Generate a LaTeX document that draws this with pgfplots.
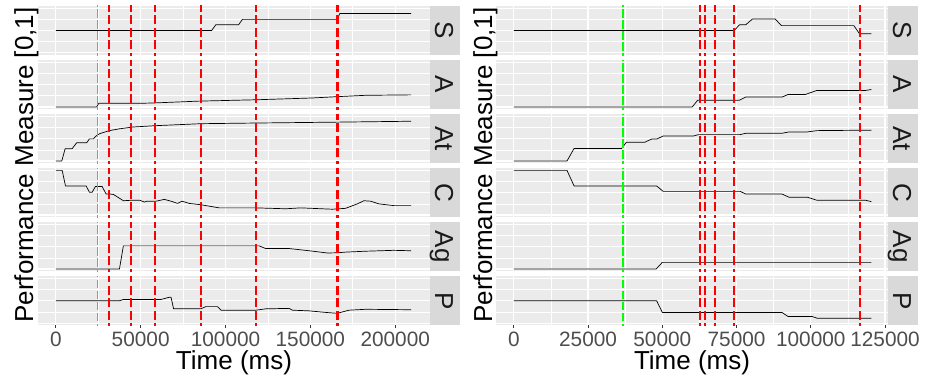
\documentclass[border=0pt]{standalone}
\usepackage{pgfplots}
\pgfplotsset{compat=1.18}
\usepackage{fontspec}
\setmainfont{Liberation Sans}
\definecolor{panelbg}{HTML}{EBEBEB}
\definecolor{stripbg}{HTML}{D9D9D9}
\definecolor{ticklab}{HTML}{4D4D4D}
\definecolor{tickcol}{HTML}{333333}
\definecolor{striptext}{HTML}{1A1A1A}
\definecolor{evred}{RGB}{255,0,0}
\definecolor{evgreen}{RGB}{0,255,0}
\pgfplotsset{
  facet/.style={
    scale only axis, width=392pt, height=49.1pt, anchor=south west,
    ymin=-0.05, ymax=1.05,
    axis line style={draw=none},
    axis background/.style={fill=panelbg},
    ytick={0,0.5,1}, minor ytick={0.25,0.75}, yticklabels={},
    ytick style={draw=none},
    grid=both,
    major grid style={white, line width=1.2pt},
    minor grid style={white, line width=0.6pt},
    scaled x ticks=false,
    major tick length=0pt, minor tick length=0pt,
    xtick pos=left, tick align=outside,
  },
  inner/.style={xticklabels={}, xtick style={draw=none}},
  bottom/.style={
    major x tick style={tickcol, line width=1pt},
    minor x tick style={draw=none},
    major tick length=2.75pt,
    /pgf/number format/assume math mode=true,
    /pgf/number format/fixed,
    /pgf/number format/1000 sep={},
    xticklabel style={font=\fontsize{20.8}{24}\selectfont, text=ticklab},
  },
  leftx/.style={xmin=-10500, xmax=220500, xtick={0,50000,100000,150000,200000},
    minor xtick={25000,75000,125000,175000}},
  rightx/.style={xmin=-6000, xmax=126000, xtick={0,25000,50000,75000,100000,125000},
    minor xtick={12500,37500,62500,87500,112500}},
  evr/.style={draw=evred, line width=2pt, dash pattern=on 9pt off 3.5pt, unbounded coords=jump},
  evg/.style={draw=evgreen, line width=1.8pt, dash pattern=on 8.5pt off 2.5pt},
}
\newcommand{\evL}{%
\addplot[evr] coordinates {
(31600,-0.2) (31600,1.2) (nan,nan)
(44500,-0.2) (44500,1.2) (nan,nan)
(58500,-0.2) (58500,1.2) (nan,nan)
(85500,-0.2) (85500,1.2) (nan,nan)
(117900,-0.2) (117900,1.2) (nan,nan)
(165500,-0.2) (165500,1.2) (nan,nan)
(166300,-0.2) (166300,1.2)};
\addplot[evg] coordinates {(24530,-0.2) (24530,1.2)};}
\newcommand{\evR}{%
\addplot[evr] coordinates {
(62740,-0.2) (62740,1.2) (nan,nan)
(64430,-0.2) (64430,1.2) (nan,nan)
(67800,-0.2) (67800,1.2) (nan,nan)
(74220,-0.2) (74220,1.2) (nan,nan)
(116450,-0.2) (116450,1.2)};
\addplot[evg] coordinates {(36830,-0.2) (36830,1.2)};}
\newcommand{\facet}[5]{%
\begin{axis}[facet, at={(#1pt,#2pt)}, #3]
\addplot[draw=black, line width=0.7pt, line join=round] coordinates {#4};
#5
\end{axis}}
\newcommand{\strip}[3]{%
\fill[stripbg] (#1,#2) rectangle (#1+29.5,#2+49.1);
\node[rotate=-90, anchor=base, font=\fontsize{26}{30}\selectfont, text=striptext, inner sep=0pt] at (#1+5,#2+24.55) {#3};}
\begin{document}
\begin{tikzpicture}[x=1pt,y=1pt]
\useasboundingbox (0,0) rectangle (927,381);
% ---------------- left panel ----------------
\facet{38}{325.9}{leftx,inner}{(0,0.5) (91800,0.5) (94300,0.63) (107700,0.63) (110000,0.75) (165900,0.75) (167300,0.88) (209400,0.88)}{\evL}
\facet{38}{271.85}{leftx,inner}{(0,0) (24100,0) (25300,0.08) (49200,0.08) (58500,0.09) (84500,0.13) (117900,0.16) (151000,0.20) (165900,0.23) (182500,0.26) (209400,0.27)}{\evL}
\facet{38}{217.8}{leftx,inner}{(0,0) (3530,0) (5490,0.275) (9610,0.275) (12350,0.41) (18240,0.41) (19810,0.495) (22160,0.495) (23730,0.56) (25690,0.61) (31570,0.68) (37450,0.72) (45300,0.76) (58400,0.79) (85500,0.835) (117900,0.85) (165900,0.87) (209400,0.89)}{\evL}
\facet{38}{163.75}{leftx,inner}{(0,1.0) (3760,1.0) (5700,0.65) (17880,0.65) (19820,0.51) (21400,0.51) (23350,0.64) (27290,0.64) (29640,0.47) (32000,0.47) (34000,0.46) (39820,0.32) (44350,0.33) (49640,0.33) (52170,0.29) (53530,0.31) (59060,0.31) (63940,0.35) (67870,0.31) (71760,0.26) (74350,0.31) (78650,0.26) (85530,0.23) (96290,0.16) (117860,0.16) (135500,0.14) (144330,0.16) (162960,0.13) (170800,0.15) (177670,0.25) (181590,0.32) (185510,0.31) (190410,0.25) (199240,0.21) (209430,0.21)}{\evL}
\facet{38}{109.7}{leftx,inner}{(0,0) (37500,0) (39800,0.52) (119800,0.52) (123700,0.46) (137500,0.46) (149300,0.41) (160100,0.36) (165900,0.365) (170800,0.38) (182600,0.40) (199200,0.42) (209400,0.41)}{\evL}
\facet{38}{55.65}{leftx,bottom}{(0,0.5) (37500,0.5) (39800,0.53) (62000,0.53) (66900,0.58) (67900,0.58) (69400,0.32) (85500,0.32) (88400,0.37) (95300,0.37) (97300,0.29) (117900,0.29) (123700,0.32) (137500,0.33) (139400,0.29) (149200,0.275) (159000,0.24) (165900,0.22) (172800,0.29) (182600,0.31) (209400,0.30)}{\evL}
% ---------------- right panel ----------------
\facet{496}{325.9}{rightx,inner}{(0,0.5) (74200,0.5) (76000,0.63) (78100,0.63) (80400,0.76) (88000,0.76) (90100,0.61) (114500,0.61) (116400,0.43) (120400,0.43)}{\evR}
\facet{496}{271.85}{rightx,inner}{(0,0) (60100,0) (61900,0.15) (76000,0.15) (78100,0.22) (90300,0.22) (92400,0.28) (98200,0.28) (102100,0.37) (118500,0.37) (120400,0.39)}{\evR}
\facet{496}{217.8}{rightx,inner}{(0,0) (17900,0) (20300,0.28) (36300,0.28) (37900,0.42) (44100,0.42) (46400,0.49) (48100,0.49) (50300,0.56) (60500,0.56) (62200,0.59) (76200,0.59) (78100,0.62) (90300,0.62) (92600,0.65) (98800,0.65) (102100,0.68) (120400,0.69)}{\evR}
\facet{496}{163.75}{rightx,inner}{(0,1.0) (17900,1.0) (20300,0.65) (48100,0.65) (50300,0.53) (76200,0.53) (78100,0.47) (90300,0.47) (92600,0.40) (98800,0.40) (102100,0.33) (118500,0.33) (120400,0.30)}{\evR}
\facet{496}{109.7}{rightx,inner}{(0,0) (47900,0) (50000,0.15) (120400,0.15)}{\evR}
\facet{496}{55.65}{rightx,bottom}{(0,0.5) (48100,0.5) (50000,0.24) (90300,0.24) (92300,0.15) (100400,0.15) (102100,0.11) (120400,0.11)}{\evR}
% ---------------- strips ----------------
\strip{430}{325.9}{S}\strip{430}{271.85}{A}\strip{430}{217.8}{At}
\strip{430}{163.75}{C}\strip{430}{109.7}{Ag}\strip{430}{55.65}{P}
\strip{888}{325.9}{S}\strip{888}{271.85}{A}\strip{888}{217.8}{At}
\strip{888}{163.75}{C}\strip{888}{109.7}{Ag}\strip{888}{55.65}{P}
% ---------------- titles ----------------
\node[rotate=90, anchor=base, font=\fontsize{26}{30}\selectfont, inner sep=0pt] at (33,216) {Performance Measure [0,1]};
\node[rotate=90, anchor=base, font=\fontsize{26}{30}\selectfont, inner sep=0pt] at (492,216) {Performance Measure [0,1]};
\node[anchor=base, font=\fontsize{26}{30}\selectfont, inner sep=0pt] at (234,11.5) {Time (ms)};
\node[anchor=base, font=\fontsize{26}{30}\selectfont, inner sep=0pt] at (692,11.5) {Time (ms)};
\end{tikzpicture}
\end{document}
